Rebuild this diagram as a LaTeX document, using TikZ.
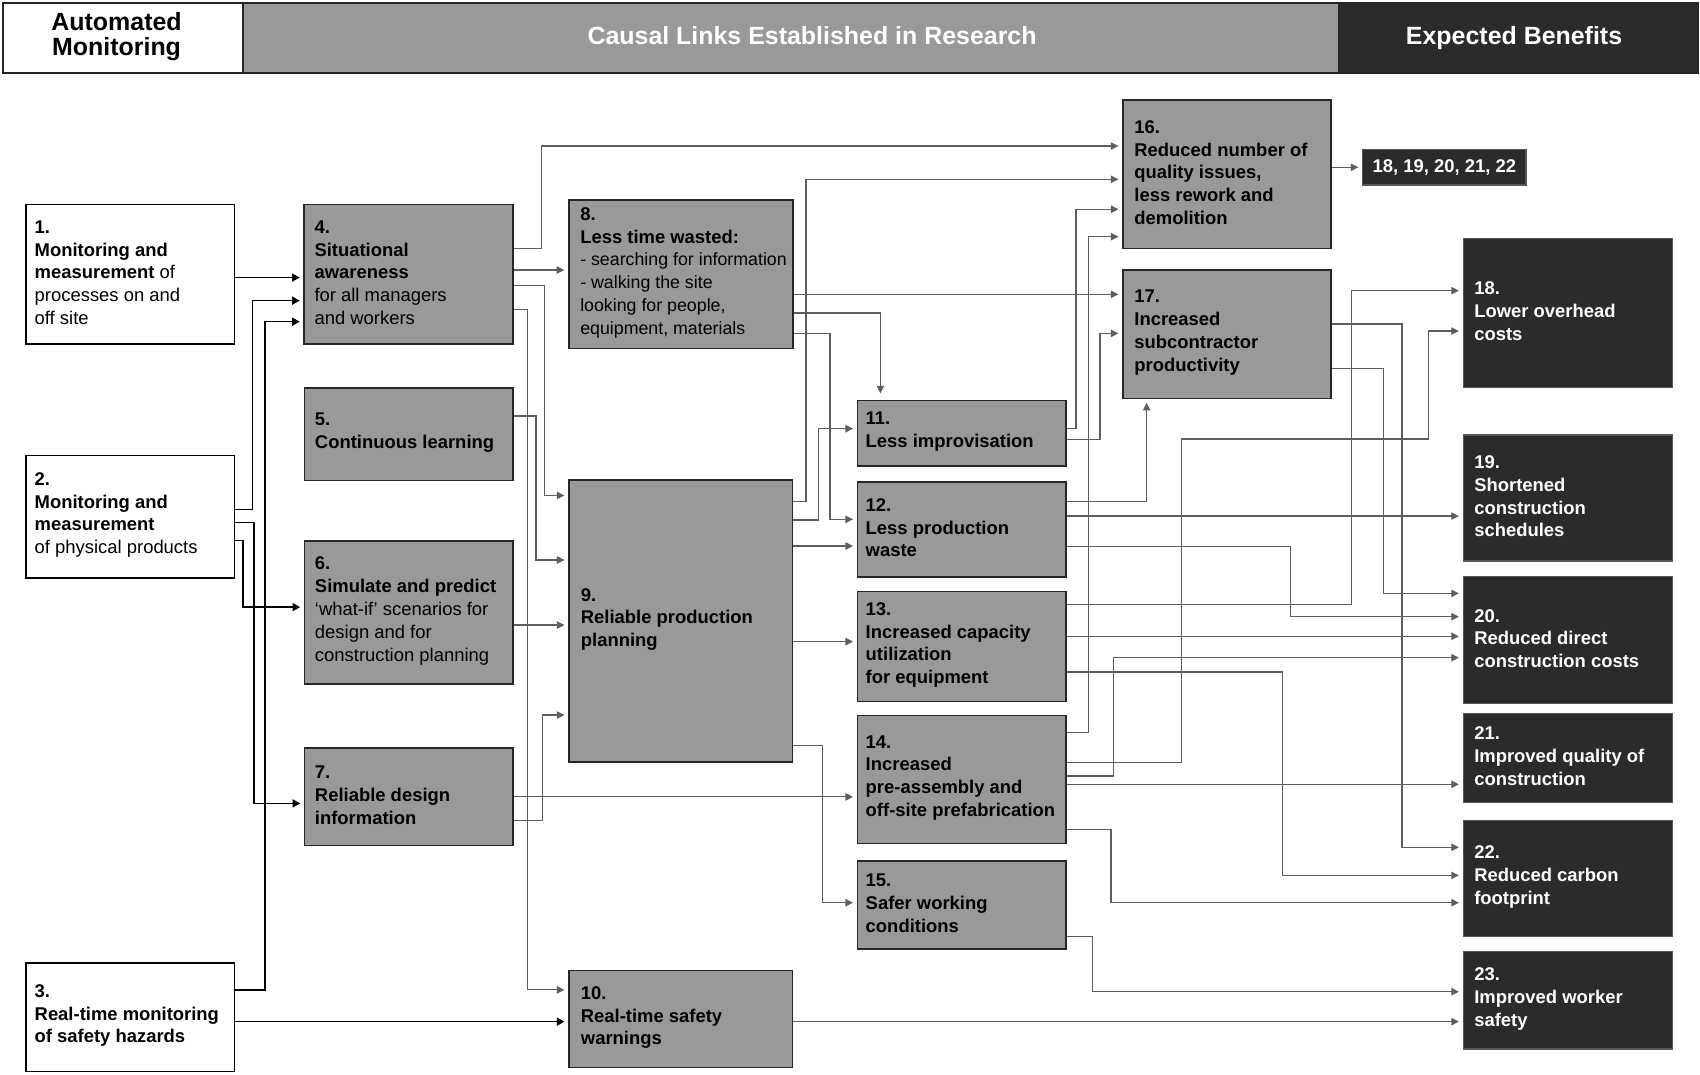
\documentclass[tikz,border=0pt]{standalone}
\usepackage{fontspec}
\setmainfont{Liberation Sans}
\usetikzlibrary{arrows.meta}
\definecolor{boxgray}{HTML}{999999}
\definecolor{darkbox}{HTML}{2B2B2B}
\definecolor{linegray}{HTML}{5E5E5E}
\definecolor{bordergray}{HTML}{262626}
\definecolor{darkborder}{HTML}{555555}

\newcommand\mkrect[6]{%
  \pgfmathsetmacro\mbW{#5-#3}%
  \pgfmathsetmacro\mbH{#6-#4}%
  \pgfmathsetmacro\mbX{(#3+#5)/2}%
  \pgfmathsetmacro\mbY{(#4+#6)/2}%
  \node[#2, minimum width=\mbW pt, minimum height=\mbH pt] (#1) at (\mbX,\mbY) {};%
}
\newcommand\mkbox[8]{%
  \mkrect{#1}{#2}{#4}{#5}{#6}{#7}%
  \node[#2txt, anchor=west] (#1t) at ([xshift=#3pt,yshift=1.5pt]#1.west) {#8};%
}

\begin{document}
\begin{tikzpicture}[x=1pt,y=-1pt,
  hw/.style={draw=bordergray, line width=1.6pt, fill=white, inner sep=0pt},
  hg/.style={draw=bordergray, line width=1.6pt, fill=boxgray, inner sep=0pt},
  hd/.style={draw=bordergray, line width=1.6pt, fill=darkbox, inner sep=0pt},
  htxt/.style={inner sep=0pt, text=white, font=\bfseries\fontsize{23}{23}\selectfont},
  wbox/.style={draw=black, line width=1.4pt, fill=white, inner sep=0pt},
  gbox/.style={draw=bordergray, line width=1.4pt, fill=boxgray, inner sep=0pt},
  dbox/.style={draw=darkborder, line width=1.2pt, fill=darkbox, inner sep=0pt},
  wboxtxt/.style={inner sep=0pt, align=left, text=black, font=\fontsize{17}{21}\selectfont},
  gboxtxt/.style={inner sep=0pt, align=left, text=black, font=\fontsize{17}{21}\selectfont},
  dboxtxt/.style={inner sep=0pt, align=left, text=white, font=\bfseries\fontsize{17}{21}\selectfont},
  blk/.style={draw=black, line width=1.4pt, -{Triangle[length=7pt,width=7.5pt]}, shorten >=3.5pt},
  gry/.style={draw=linegray, line width=1.1pt, -{Triangle[length=7pt,width=6.8pt]}, shorten >=3.5pt},
]
\fill[white] (0,0) rectangle (1568,991.5);
\useasboundingbox (0,0) rectangle (1568,991.5);

% header
\mkrect{h1}{hw}{3}{3}{224}{67.5}
\mkrect{h2}{hg}{224}{3}{1235}{67.5}
\mkrect{h3}{hd}{1235}{3}{1566}{67.5}
\node[htxt, text=black, align=center] (h1t) at (107.5,33.5) {Automated\\Monitoring};
\node[htxt, anchor=base] (h2t) at (749,41.5) {Causal Links Established in Research};
\node[htxt, anchor=base] (h3t) at (1396.5,41.5) {Expected Benefits};

% automated monitoring
\mkbox{b1}{wbox}{8.5}{24}{188.5}{216.4}{317.3}{\textbf{1.}\\\textbf{Monitoring and}\\\textbf{measurement} of\\processes on and\\off site}
\mkbox{b2}{wbox}{8.5}{24}{420}{216.4}{533}{\textbf{2.}\\\textbf{Monitoring and}\\\textbf{measurement}\\of physical products}
\mkbox{b3}{wbox}{8.5}{24}{888}{216.4}{988.5}{\textbf{3.}\\\textbf{Real-time monitoring}\\\textbf{of safety hazards}}

% causal links
\mkbox{b4}{gbox}{10}{280.6}{188.5}{473}{317.3}{\textbf{4.}\\\textbf{Situational}\\\textbf{awareness}\\for all managers\\and workers}
\mkbox{b5}{gbox}{10}{281}{358}{473}{443}{\textbf{5.}\\\textbf{Continuous learning}}
\mkbox{b6}{gbox}{10}{281}{499}{473}{631}{\textbf{6.}\\\textbf{Simulate and predict}\\`what-if' scenarios for\\design and for\\construction planning}
\mkbox{b7}{gbox}{10}{281}{690}{473}{780}{\textbf{7.}\\\textbf{Reliable design}\\\textbf{information}}
\mkbox{b8}{gbox}{11}{524.7}{184.5}{731.2}{321.3}{\textbf{8.}\\\textbf{Less time wasted:}\\\fontsize{16.4}{21}\selectfont - searching for information\\\fontsize{16.4}{21}\selectfont - walking the site\\\fontsize{16.4}{21}\selectfont looking for people,\\\fontsize{16.4}{21}\selectfont equipment, materials}
\mkbox{b9}{gbox}{11.5}{524.8}{442.7}{731}{703}{\textbf{9.}\\\textbf{Reliable production}\\\textbf{planning}}
\mkbox{b10}{gbox}{11.5}{524.8}{895.3}{731}{984.7}{\textbf{10.}\\\textbf{Real-time safety}\\\textbf{warnings}}
\mkbox{b11}{gbox}{8}{791}{369.5}{983}{429.8}{\textbf{11.}\\\textbf{Less improvisation}}
\mkbox{b12}{gbox}{8}{791}{444.6}{983}{532}{\textbf{12.}\\\textbf{Less production}\\\textbf{waste}}
\mkbox{b13}{gbox}{8}{791}{545.7}{983}{647}{\textbf{13.}\\\textbf{Increased capacity}\\\textbf{utilization}\\\textbf{for equipment}}
\mkbox{b14}{gbox}{8}{791}{660}{983}{778}{\textbf{14.}\\\textbf{Increased}\\\textbf{pre-assembly and}\\\textbf{off-site prefabrication}}
\mkbox{b15}{gbox}{8}{791}{794}{983}{875.3}{\textbf{15.}\\\textbf{Safer working}\\\textbf{conditions}}
\mkbox{b16}{gbox}{11}{1035.8}{92.2}{1227.5}{229}{\textbf{16.}\\\textbf{Reduced number of}\\\textbf{quality issues,}\\\textbf{less rework and}\\\textbf{demolition}}
\mkbox{b17}{gbox}{11}{1035.8}{249}{1227.6}{367.4}{\textbf{17.}\\\textbf{Increased}\\\textbf{subcontractor}\\\textbf{productivity}}

% expected benefits
\mkrect{bs}{dbox}{1257}{137.7}{1407.5}{170.6}
\node[dboxtxt, align=center] (bst) at (bs.center) {18, 19, 20, 21, 22};
\mkbox{b18}{dbox}{10.5}{1349.7}{219.8}{1542.4}{357.6}{18.\\Lower overhead\\costs}
\mkbox{b19}{dbox}{10.5}{1349.7}{401.2}{1542.4}{517.4}{19.\\Shortened\\construction\\schedules}
\mkbox{b20}{dbox}{10.5}{1349.7}{532}{1542.4}{648.7}{20.\\Reduced direct\\construction costs}
\mkbox{b21}{dbox}{10.5}{1349.7}{658}{1542.4}{740}{21.\\Improved quality of\\construction}
\mkbox{b22}{dbox}{10.5}{1349.7}{757}{1542.4}{864}{22.\\Reduced carbon\\footprint}
\mkbox{b23}{dbox}{10.5}{1349.7}{877.8}{1542.4}{967.5}{23.\\Improved worker\\safety}

% black connectors
\draw[blk] (b1.east|-0,256) -- (b4.west|-0,256);
\draw[blk] (b2.east|-0,470) -| (233,277.3) -- (b4.west|-0,277.3);
\draw[blk] (b3.east|-0,913) -| (244.3,296.7) -- (b4.west|-0,296.7);
\draw[blk] (b2.east|-0,498.7) -| (224,560) -- (b6.west|-0,560);
\draw[blk] (b2.east|-0,482) -| (234.4,741) -- (b7.west|-0,741);
\draw[blk] (b3.east|-0,942.3) -- (b10.west|-0,942.3);

% gray connectors
\draw[gry] (b4.east|-0,229) -| (499.3,134.7) -- (b16.west|-0,134.7);
\draw[gry] (b4.east|-0,249) -- (b8.west|-0,249);
\draw[gry] (b4.east|-0,263.5) -| (502,457) -- (b9.west|-0,457);
\draw[gry] (b4.east|-0,285.3) -| (486.5,913) -- (b10.west|-0,913);
\draw[gry] (b5.east|-0,383.7) -| (494.4,516.5) -- (b9.west|-0,516.5);
\draw[gry] (b6.east|-0,576.5) -- (b9.west|-0,576.5);
\draw[gry] (b7.east|-0,757) -| (500.5,659.5) -- (b9.west|-0,659.5);
\draw[gry] (b7.east|-0,735) -- (b14.west|-0,735);
\draw[gry] (b8.east|-0,271.5) -- (b17.west|-0,271.5);
\draw[gry, shorten >=6pt] (b8.east|-0,288.7) -| (b11.north-|812,0);
\draw[gry] (b8.east|-0,307.5) -| (765.6,479) -- (b12.west|-0,479);
\draw[gry] (b9.east|-0,462.7) -| (743.4,165.4) -- (b16.west|-0,165.4);
\draw[gry] (b9.east|-0,479.6) -| (754.8,395.4) -- (b11.west|-0,395.4);
\draw[gry] (b9.east|-0,503.6) -- (b12.west|-0,503.6);
\draw[gry] (b9.east|-0,591.8) -- (b13.west|-0,591.8);
\draw[gry] (b9.east|-0,687.8) -| (758.8,832.6) -- (b15.west|-0,832.6);
\draw[gry] (b11.east|-0,395.4) -| (992.4,193) -- (b16.west|-0,193);
\draw[gry] (b11.east|-0,405.2) -| (1014.6,307.5) -- (b17.west|-0,307.5);
\draw[gry] (b12.east|-0,462.7) -| (b17.south-|1057.6,0);
\draw[gry] (b12.east|-0,476) -- (b19.west|-0,476);
\draw[gry] (b12.east|-0,504.2) -| (1190.4,568.8) -- (b20.west|-0,568.8);
\draw[gry] (b13.east|-0,557.4) -| (1246.5,268.1) -- (b18.west|-0,268.1);
\draw[gry] (b13.east|-0,586.9) -- (b20.west|-0,586.9);
\draw[gry] (b13.east|-0,619.8) -| (1182.7,807.4) -- (b22.west|-0,807.4);
\draw[gry] (b14.east|-0,675.5) -| (1004.1,218.3) -- (b16.west|-0,218.3);
\draw[gry] (b14.east|-0,703.1) -| (1090,404.9) -| (1317.4,305.3) -- (b18.west|-0,305.3);
\draw[gry] (b14.east|-0,715.7) -| (1026.9,606.6) -- (b20.west|-0,606.6);
\draw[gry] (b14.east|-0,723.4) -- (b21.west|-0,723.4);
\draw[gry] (b14.east|-0,765) -| (1024.7,832.6) -- (b22.west|-0,832.6);
\draw[gry] (b15.east|-0,863.9) -| (1007.8,914.7) -- (b23.west|-0,914.7);
\draw[gry] (b10.east|-0,942.3) -- (b23.west|-0,942.3);
\draw[gry] (b16.east|-0,154.3) -- (bs.west|-0,154.3);
\draw[gry] (b17.east|-0,340) -| (1275.9,547.3) -- (b20.west|-0,547.3);
\draw[gry] (b17.east|-0,298.8) -| (1293.1,781.5) -- (b22.west|-0,781.5);
\end{tikzpicture}
\end{document}
